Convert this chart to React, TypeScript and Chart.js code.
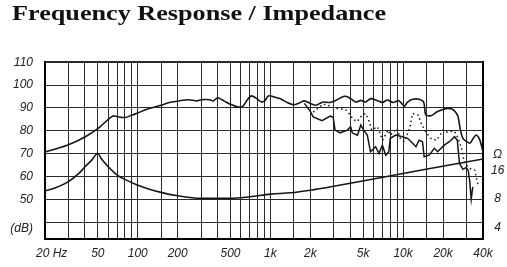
import React, { useEffect, useRef } from 'react';
import { Chart, registerables } from 'chart.js';

Chart.register(...registerables);

// ---- axis ticks / labels ----
const freqTicks = [20, 30, 40, 50, 60, 70, 80, 90, 100, 150, 200, 300, 400, 500, 600, 700, 800, 900, 1000, 1500, 2000, 3000, 4000, 5000, 6000, 7000, 8000, 9000, 10000, 15000, 20000, 30000, 40000];
const freqLabelValues = [20, 50, 100, 200, 500, 1000, 2000, 5000, 10000, 20000, 40000];
const freqLabelTexts = ['\u2007\u200720 Hz', '50', '100', '200', '500', '1k', '2k', '5k', '10k', '20k', '40k'];
const dbTicks = [37.3, 40, 50, 60, 70, 80, 90, 100, 110];
const dbLabels = ['(dB)', '', '50', '60', '70', '80', '90', '100', '110'];
const ohmTicks = [4, 8, 16, 23.3];
const ohmLabels = ['4', '8', '16', 'Ω'];

// ---- frequency response, on axis (solid) ----
const onAxisFreq = [20, 25, 30, 40, 50, 60, 65, 70, 80, 90, 100, 120, 150, 170, 200, 240, 280, 300, 350, 370, 400, 450, 500, 570, 620, 670, 720, 780, 850, 900, 970, 1100, 1200, 1350, 1500, 1650, 1800, 2000, 2200, 2500, 2800, 3100, 3600, 3900, 4400, 4800, 5200, 5700, 6400, 7000, 7600, 8400, 9300, 10200, 10800, 11800, 13200, 14300, 14800, 16200, 17900, 19500, 21400, 23300, 24700, 25900, 26900, 28200, 30300, 32000, 34200, 35800, 37900, 40000];
const onAxisDb = [70.7, 72.3, 73.9, 77.3, 80.9, 85, 86.5, 86.2, 85.8, 86.8, 87.8, 89.6, 91.2, 92.3, 93, 93.6, 93.1, 93.6, 93.6, 93, 94.5, 93, 91.6, 90.4, 90.8, 93.6, 95.3, 94.3, 92.7, 93, 95.3, 94.6, 93.9, 92.3, 91.4, 92.2, 93.1, 92, 91.2, 92.6, 92.4, 93.3, 95.1, 94.6, 92.6, 93.3, 92.6, 94.1, 93.2, 92.4, 93.5, 92.4, 93.2, 90.8, 92.6, 93.8, 93.8, 92.5, 87, 86.6, 88.2, 89.1, 89.8, 89.5, 88.3, 86.4, 81, 76.7, 75.2, 74.6, 77.2, 78.1, 75.9, 70.7];

// ---- off axis 30° (dotted) ----
const off30Freq = [2100, 2500, 2850, 3000, 3500, 3700, 4000, 4200, 4500, 4800, 5200, 5500, 5800, 6400, 7000, 7700, 8000, 9000, 9500, 10200, 11200, 11800, 13000, 13700, 15000, 16400, 17900, 19000, 20000, 21400, 24000, 25200, 26600, 27400, 29000, 31700, 34600, 36600];
const off30Db = [88.2, 91.7, 90.8, 90, 89.4, 89.1, 86.9, 85, 84, 86.1, 87.6, 84.7, 80.3, 81.8, 75.9, 80.3, 78.1, 81, 76.8, 75.2, 81, 87.6, 86.9, 83.2, 79, 76.4, 75.9, 78.1, 80.3, 79.4, 79.9, 78.6, 75, 72.9, 65.8, 63.5, 62.8, 56.6];

// ---- off axis 60° (solid, lower) ----
const off60Freq = [1800, 2000, 2100, 2450, 2820, 2970, 3070, 3350, 3800, 4020, 4140, 4530, 4800, 5050, 5370, 5680, 6200, 6580, 6980, 7400, 7800, 8000, 8800, 9900, 10800, 11800, 12500, 13200, 14000, 14400, 15700, 17200, 18200, 20400, 22300, 24400, 25600, 26600, 28200, 29900, 31000, 31800, 32600, 33500];
const off60Db = [92, 88.5, 86.1, 84.4, 86.4, 86, 80.3, 79.1, 80.3, 81.8, 79.1, 78.1, 82.5, 80.3, 78.1, 70.8, 73, 70.1, 73.7, 69.3, 70.8, 76.7, 78.1, 77.4, 76.7, 74.5, 73, 75.9, 75.2, 68.6, 69.3, 72.3, 70.8, 73.7, 75.2, 77.4, 75.9, 65.7, 63.1, 63.9, 62.5, 57.6, 50, 55.4];

// ---- impedance (Ω) ----
const impFreq = [20, 24, 30, 36, 40, 45, 50, 53, 60, 70, 80, 100, 150, 200, 300, 500, 700, 1000, 1420, 2000, 3000, 6100, 14500, 40000];
const impOhm = [9.7, 10.5, 12.2, 14.9, 17.5, 20.6, 24.3, 21.4, 17.5, 14.3, 12.9, 11.2, 9.4, 8.65, 8.13, 8.13, 8.45, 9.0, 9.3, 9.9, 10.9, 13.1, 16.4, 21.2];

const pts = (fs: number[], vs: number[]) => fs.map((f, i) => ({ x: f, y: vs[i] }));

export default function App() {
  const ref = useRef<HTMLCanvasElement>(null);

  useEffect(() => {
    const font = { family: "'Liberation Sans', Arial, sans-serif", size: 12, style: 'italic' as const };
    const lineColor = '#161616';
    const chart = new Chart(ref.current!, {
      type: 'line',
      data: {
        datasets: [
          { label: 'On axis', data: pts(onAxisFreq, onAxisDb), yAxisID: 'y', borderColor: lineColor, borderWidth: 1.6, pointRadius: 0, tension: 0.25 },
          { label: '30°', data: pts(off30Freq, off30Db), yAxisID: 'y', borderColor: lineColor, borderWidth: 1.5, borderDash: [1.5, 3], pointRadius: 0, tension: 0 },
          { label: '60°', data: pts(off60Freq, off60Db), yAxisID: 'y', borderColor: lineColor, borderWidth: 1.5, pointRadius: 0, tension: 0 },
          { label: 'Impedance', data: pts(impFreq, impOhm), yAxisID: 'y2', borderColor: lineColor, borderWidth: 1.6, pointRadius: 0, cubicInterpolationMode: 'monotone' },
        ],
      },
      options: {
        animation: false,
        responsive: false,
        events: [],
        layout: { padding: { top: 62.3, left: 0, right: 0, bottom: 0 } },
        plugins: { legend: { display: false }, tooltip: { enabled: false }, title: { display: false } },
        scales: {
          x: {
            type: 'logarithmic',
            min: 20,
            max: 40000,
            bounds: 'data',
            afterBuildTicks: (s: any) => { s.ticks = freqTicks.map((v) => ({ value: v })); },
            afterFit: (s: any) => { s.height = 28.5; },
            grid: { color: '#2a2a2a', lineWidth: 1, drawTicks: false },
            border: { display: true, color: '#000', width: 2 },
            ticks: {
              autoSkip: false,
              maxRotation: 0,
              padding: 8,
              font,
              color: '#222',
              callback: (v: any) => {
                const i = freqLabelValues.indexOf(Number(v));
                return i >= 0 ? freqLabelTexts[i] : '';
              },
            },
          },
          y: {
            type: 'linear',
            position: 'left',
            min: 32.8,
            max: 110,
            afterBuildTicks: (s: any) => { s.ticks = dbTicks.map((v) => ({ value: v })); },
            afterFit: (s: any) => { s.width = 45; },
            grid: {
              drawTicks: false,
              color: (c: any) => (c.tick && c.tick.value === 37.3 ? 'rgba(0,0,0,0)' : '#2a2a2a'),
              lineWidth: (c: any) => (c.tick && c.tick.value === 110 ? 2 : 1),
            },
            border: { display: true, color: '#000', width: 2 },
            ticks: {
              padding: 12,
              font,
              color: '#222',
              callback: (v: any) => {
                const i = dbTicks.indexOf(Number(v));
                return i >= 0 ? dbLabels[i] : '';
              },
            },
          },
          y2: {
            type: 'logarithmic',
            position: 'right',
            min: 3.06,
            max: 222.4,
            bounds: 'data',
            afterBuildTicks: (s: any) => { s.ticks = ohmTicks.map((v) => ({ value: v })); },
            afterFit: (s: any) => { s.width = 24; },
            grid: { display: false, drawTicks: false },
            border: { display: true, color: '#000', width: 2 },
            ticks: {
              padding: 8,
              crossAlign: 'center',
              font,
              color: '#222',
              callback: (v: any) => {
                const i = ohmTicks.indexOf(Number(v));
                return i >= 0 ? ohmLabels[i] : '';
              },
            },
          },
        },
      } as any,
    });
    return () => chart.destroy();
  }, []);

  return (
    <div style={{ position: 'fixed', left: 0, top: 0, width: 507, height: 267, background: '#fff', overflow: 'hidden' }}>
      <canvas ref={ref} width={507} height={267} style={{ position: 'absolute', left: 0, top: 0, display: 'block' }} />
      <div
        style={{
          position: 'absolute',
          left: 11.7,
          top: 2.3,
          font: "bold 22px 'Liberation Serif', 'Times New Roman', serif",
          lineHeight: '22px',
          color: '#111',
          whiteSpace: 'nowrap',
          transform: 'scaleX(1.19)',
          transformOrigin: 'left top',
        }}
      >
        Frequency Response / Impedance
      </div>
    </div>
  );
}
